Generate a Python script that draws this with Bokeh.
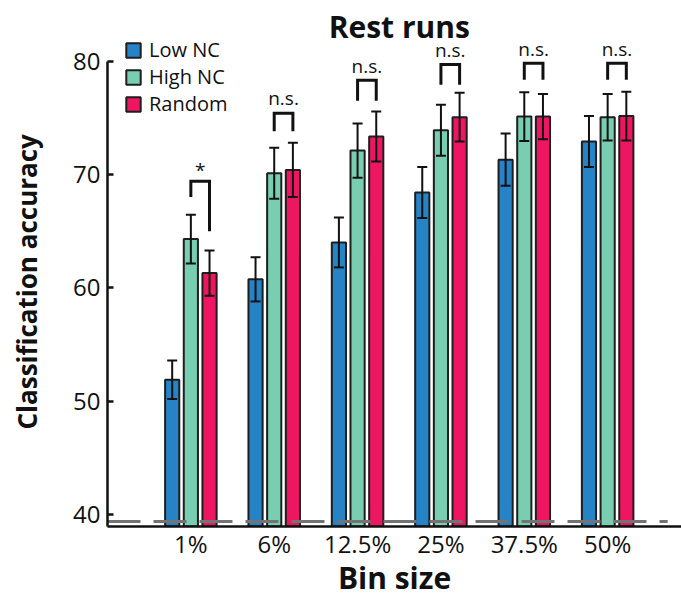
from bokeh.plotting import figure
from bokeh.models import (Range1d, FixedTicker, Whisker, TeeHead, ColumnDataSource,
                          Legend, LegendItem, Label, Title, LinearAxis)
from bokeh.core.properties import value
from bokeh.embed import file_html
from bokeh.resources import INLINE

# ---------------- data ----------------
bins = ["1%", "6%", "12.5%", "25%", "37.5%", "50%"]
low_nc = [51.9, 60.75, 64.0, 68.4, 71.3, 72.9]
low_nc_err = [1.7, 1.95, 2.2, 2.25, 2.3, 2.25]
high_nc = [64.3, 70.1, 72.1, 73.9, 75.1, 75.05]
high_nc_err = [2.15, 2.25, 2.4, 2.25, 2.15, 2.05]
random_ = [61.3, 70.4, 73.35, 75.05, 75.1, 75.15]
random_err = [2.0, 2.4, 2.2, 2.15, 2.0, 2.15]

sig_labels = ["*", "n.s.", "n.s.", "n.s.", "n.s.", "n.s."]
bracket_top = [69.4, 75.4, 78.3, 79.7, 79.8, 79.8]
bracket_left_end = [68.0, 73.8, 76.5, 77.9, 78.35, 78.35]
bracket_right_end = [65.0, 73.8, 76.5, 77.9, 78.35, 78.35]

chance_level = 39.4
chance_extent = [0, 6.72]
y_ticks = [40, 50, 60, 70, 80]
title_text = "Rest runs"
x_label = "Bin size"
y_label = "Classification accuracy"

# ---------------- styling ----------------
FONT = "Open Sans"
INK = "#111111"
C_LOW, C_HIGH, C_RAND = "#2683c6", "#79cdb1", "#ee1660"
EDGE = "#1e1e1e"
OFF = 0.224
W = 0.17
Y0, Y_TOP, Y_END = 38.95, 80, 85.34
X_END = 6.886

xs = list(range(1, len(bins) + 1))

p = figure(width=681, height=600, output_backend="svg", toolbar_location=None,
           x_range=Range1d(0, X_END), y_range=Range1d(Y0, Y_END),
           min_border_left=107, min_border_right=0, min_border_bottom=73,
           min_border_top=0, x_axis_label=x_label)
p.outline_line_color = None
p.xgrid.visible = False
p.ygrid.visible = False
p.background_fill_color = "white"

def series(vals, errs, dx):
    return ColumnDataSource(dict(
        x=[x + dx for x in xs], top=vals,
        up=[v + e for v, e in zip(vals, errs)],
        lo=[v - e for v, e in zip(vals, errs)]))

renderers = []
for vals, errs, dx, col in [(low_nc, low_nc_err, -OFF, C_LOW),
                            (high_nc, high_nc_err, 0.0, C_HIGH),
                            (random_, random_err, OFF, C_RAND)]:
    src = series(vals, errs, dx)
    r = p.vbar(x="x", top="top", bottom=Y0 - 5, width=W, fill_color=col,
               line_color=EDGE, line_width=2, source=src)
    renderers.append(r)
    wk = Whisker(source=src, base="x", upper="up", lower="lo",
                 line_width=2, line_color=INK, level="overlay",
                 upper_head=TeeHead(size=10, line_width=2, line_color=INK),
                 lower_head=TeeHead(size=10, line_width=2, line_color=INK))
    p.add_layout(wk)

# chance-level dashed line (drawn over bars)
p.line(x=chance_extent, y=[chance_level, chance_level], line_color="#737373",
       line_width=3, line_dash="33 13")

# significance brackets between High NC and Random
bx, by = [], []
for x, t, le, re in zip(xs, bracket_top, bracket_left_end, bracket_right_end):
    bx.append([x, x, x + OFF, x + OFF])
    by.append([le, t, t, re])
p.multi_line(xs=bx, ys=by, line_color=INK, line_width=3, line_join="miter")
sig_y = [t + (0.95 if s == "*" else 1.3) for s, t in zip(sig_labels, bracket_top)]
p.text(x=[x + OFF / 2 for x in xs], y=sig_y, text=sig_labels,
       text_align="center", text_baseline="middle", text_font=value(FONT),
       text_font_size="19px", text_color=INK)

# title, drawn inside the frame so that the legend and labels above 80 are not clipped
p.add_layout(Label(x=(xs[0] + xs[-1]) / 2, y=83.05, text=title_text,
                   text_align="center", text_baseline="middle",
                   text_font=FONT, text_font_size="30px", text_font_style="bold",
                   text_color=INK))

# axes
ya = p.yaxis[0]
ya.bounds = (Y0, Y_TOP)
ya.ticker = FixedTicker(ticks=y_ticks)
ya.major_tick_in = 6
ya.major_tick_out = 0
ya.minor_tick_line_color = None
ya.axis_line_width = 2.5
ya.major_tick_line_width = 2.5
ya.axis_line_color = INK
ya.major_tick_line_color = INK
ya.major_label_text_font = FONT
ya.major_label_text_font_size = "24px"
ya.major_label_text_color = INK
ya.major_label_standoff = 7

# invisible spacer between the tick labels and the y label
spacer = LinearAxis(ticker=FixedTicker(ticks=[60]), major_tick_out=26, major_tick_in=0,
                    major_tick_line_color=None, minor_tick_line_color=None,
                    axis_line_color=None, major_label_standoff=0,
                    major_label_text_font_size="0px", major_label_text_alpha=0)
p.add_layout(spacer, "left")

# y label as a side title so that it can sit beside the 40-80 span
p.add_layout(Title(text=y_label, align="left", offset=97, standoff=0,
                   text_font=FONT, text_font_size="26px", text_font_style="bold",
                   text_color=INK), "left")

xa = p.xaxis[0]
xa.ticker = FixedTicker(ticks=xs)
xa.major_label_overrides = {x: b for x, b in zip(xs, bins)}
xa.major_tick_line_color = None
xa.major_tick_in = 0
xa.major_tick_out = 0
xa.minor_tick_line_color = None
xa.axis_line_width = 2.5
xa.axis_line_color = INK
xa.major_label_text_font = FONT
xa.major_label_text_font_size = "24px"
xa.major_label_text_color = INK
xa.major_label_standoff = 0
xa.axis_label_text_font = FONT
xa.axis_label_text_font_size = "30px"
xa.axis_label_text_font_style = "bold"
xa.axis_label_text_color = INK
xa.axis_label_standoff = -6

legend = Legend(items=[LegendItem(label="Low NC", renderers=[renderers[0]]),
                       LegendItem(label="High NC", renderers=[renderers[1]]),
                       LegendItem(label="Random", renderers=[renderers[2]])],
                location=(17, 409), glyph_width=18, glyph_height=18,
                label_text_font=FONT, label_text_font_size="20px",
                label_text_color=INK, label_standoff=7, label_height=24,
                spacing=0, padding=0, margin=0, border_line_color=None,
                background_fill_alpha=0)
p.add_layout(legend)

open("out.html", "w").write(file_html(p, INLINE))
